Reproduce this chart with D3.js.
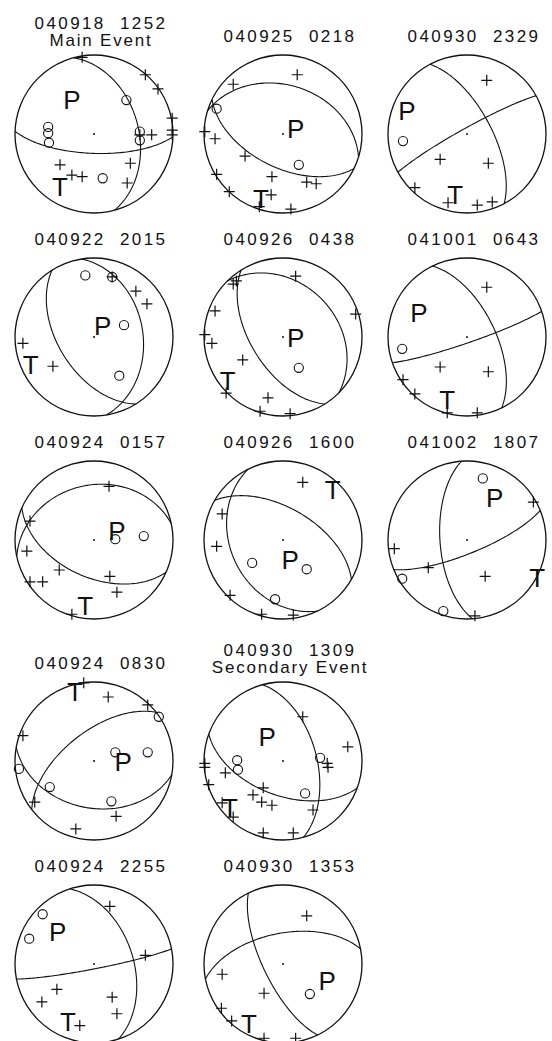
<!DOCTYPE html>
<html>
<head>
<meta charset="utf-8">
<script src="https://cdn.jsdelivr.net/npm/d3@7"></script>
<style>
  body { margin: 0; background: #fff; }
  svg { display: block; background: #fff; }
  text { font-family: "Liberation Sans", Arial, Helvetica, sans-serif; fill: #111; }
</style>
</head>
<body>
<div id="chart"></div>
<script>
// event labels (yymmdd  hhmm)
const events = ["040918  1252", "040925  0218", "040930  2329",
                "040922  2015", "040926  0438", "041001  0643",
                "040924  0157", "040926  1600", "041002  1807",
                "040924  0830", "040930  1309",
                "040924  2255", "040930  1353"];
const notes = ["Main Event", "", "", "", "", "", "", "", "", "", "Secondary Event", "", ""];

// nodal planes (strike, dip; dip to the right of strike)
const strikeA = [345, 287, 332, 148, 315, 334, 258, 154, 176, 232, 345, 342, 154];
const dipA    = [ 43,  38,  65,  53,  32,  61,  31,  34,  62,  60,  55,  49,  70];
const strikeB = [ 92, 116, 241, 351, 148,  71, 114, 300,  68, 100, 110,  79, 259];
const dipB    = [ 70,  55,  84,  38,  57,  84,  51,  57,  76,  40,  54,  85,  58];

// first motions, [east, north] on the unit net
const compressions = [
  [[-0.15,0.97],[0.65,0.75],[0.81,0.57],[0.99,0.20],[0.99,0.05],[0.99,-0.01],[0.58,-0.01],[0.73,-0.01],[0.46,-0.37],[-0.43,-0.39],[-0.28,-0.52],[-0.15,-0.54],[0.42,-0.62]],
  [[0.18,0.75],[-0.63,0.63],[-0.99,0.03],[-0.86,-0.06],[-0.48,-0.28],[-0.84,-0.51],[-0.14,-0.54],[0.30,-0.61],[0.42,-0.63],[-0.68,-0.73],[-0.15,-0.77],[-0.30,-0.92],[0.10,-0.95]],
  [[0.25,0.68],[-0.34,-0.32],[0.27,-0.37],[-0.66,-0.68],[-0.24,-0.87],[0.13,-0.90],[0.32,-0.86]],
  [[0.23,0.76],[0.53,0.58],[0.67,0.42],[-0.90,-0.08],[-0.52,-0.37]],
  [[0.16,0.77],[-0.63,0.67],[-0.59,0.71],[0.92,0.29],[-0.86,0.33],[-0.99,0.03],[-0.90,-0.08],[-0.51,-0.29],[-0.72,-0.71],[-0.19,-0.77],[-0.29,-0.94],[0.09,-0.97]],
  [[0.25,0.63],[-0.34,-0.38],[0.27,-0.44],[-0.81,-0.54],[-0.66,-0.72],[-0.25,-0.96],[0.13,-0.96]],
  [[0.19,0.68],[-0.81,0.24],[-0.85,-0.14],[-0.44,-0.38],[-0.81,-0.53],[-0.65,-0.53],[0.20,-0.46],[0.29,-0.66],[-0.28,-0.94]],
  [[0.25,0.73],[-0.77,0.33],[-0.84,-0.08],[-0.67,-0.70],[-0.27,-0.94],[0.13,-0.95]],
  [[0.84,0.48],[-0.92,-0.11],[-0.49,-0.35],[0.23,-0.46],[0.10,-0.96]],
  [[-0.13,0.99],[0.18,0.81],[0.68,0.71],[-0.90,0.32],[-0.75,-0.52],[0.28,-0.70],[-0.23,-0.86]],
  [[0.25,0.56],[0.82,0.18],[-0.99,-0.03],[-0.99,-0.08],[-0.73,-0.15],[0.56,-0.03],[0.57,-0.08],[-0.94,-0.30],[-0.77,-0.53],[-0.63,-0.71],[-0.38,-0.43],[-0.27,-0.52],[-0.14,-0.56],[-0.25,-0.34],[0.38,-0.62],[-0.25,-0.91],[0.13,-0.91]],
  [[0.20,0.73],[0.65,0.11],[-0.47,-0.32],[-0.66,-0.48],[0.23,-0.42],[0.29,-0.63],[-0.18,-0.78]],
  [[0.30,0.61],[-0.77,-0.13],[-0.24,-0.37],[-0.78,-0.56],[-0.65,-0.72],[-0.24,-0.94],[0.16,-0.94]]
];
const dilatations = [
  [[0.41,0.43],[-0.58,0.09],[-0.58,0.01],[-0.57,-0.11],[0.58,0.03],[0.58,-0.08],[0.11,-0.56]],
  [[-0.84,0.32],[0.20,-0.39]],
  [[-0.81,-0.09]],
  [[-0.11,0.78],[0.23,0.76],[0.38,0.15],[0.32,-0.49]],
  [[0.20,-0.39]],
  [[-0.82,-0.15]],
  [[0.27,0.01],[0.63,0.05]],
  [[-0.39,-0.29],[0.30,-0.37],[-0.10,-0.75]],
  [[0.20,0.78],[-0.82,-0.49],[-0.30,-0.90]],
  [[0.82,0.56],[-0.95,-0.10],[0.27,0.11],[0.68,0.11],[-0.56,-0.33],[0.22,-0.51]],
  [[-0.58,0.01],[-0.57,-0.11],[0.47,0.04],[0.28,-0.41]],
  [[-0.65,0.63],[-0.82,0.32]],
  [[0.34,-0.38]]
];
// P and T axes
const pAxis = [[-0.28,0.43],[0.16,0.06],[-0.76,0.29],[0.11,0.14],[0.16,-0.01],[-0.61,0.30],[0.29,0.11],[0.09,-0.25],[0.35,0.53],[0.37,-0.01],[-0.20,0.30],[-0.46,0.41],[0.56,-0.22]];
const tAxis = [[-0.43,-0.67],[-0.28,-0.82],[-0.15,-0.77],[-0.80,-0.35],[-0.70,-0.56],[-0.25,-0.80],[-0.11,-0.84],[0.63,0.63],[0.89,-0.48],[-0.24,0.87],[-0.67,-0.59],[-0.33,-0.73],[-0.43,-0.76]];

// layout
const width = 552, height = 1041;
const R = 79;
const colX = [94, 283, 467];
const rowY = [134, 337, 540, 761, 964];
const slots = [[0,0],[1,0],[2,0],[0,1],[1,1],[2,1],[0,2],[1,2],[2,2],[0,3],[1,3],[0,4],[1,4]];

const svg = d3.select("#chart").append("svg")
    .attr("width", width)
    .attr("height", height);

// lower hemisphere equal-area trace of a plane
function planeTrace(strike, dip) {
    const rad = Math.PI / 180;
    return d3.range(0, 180.5, 2).map(l => {
        const lr = l * rad, dr = dip * rad;
        const plunge = Math.asin(Math.sin(dr) * Math.sin(lr));
        const trend = strike * rad + Math.atan2(Math.cos(dr) * Math.sin(lr), Math.cos(lr));
        const r = Math.SQRT2 * Math.sin((Math.PI / 2 - plunge) / 2);
        return [r * Math.sin(trend), r * Math.cos(trend)];
    });
}

events.forEach((ev, i) => {
    const cx = colX[slots[i][0]], cy = rowY[slots[i][1]];
    const x = d3.scaleLinear().domain([-1, 1]).range([cx - R, cx + R]);
    const y = d3.scaleLinear().domain([-1, 1]).range([cy + R, cy - R]);
    const g = svg.append("g");

    // titles
    const top = cy - R;
    g.append("text")
        .attr("x", cx + 7)
        .attr("y", notes[i] ? top - 26 : top - 13)
        .attr("text-anchor", "middle")
        .attr("font-size", 17)
        .attr("letter-spacing", 2.4)
        .style("white-space", "pre")
        .text(ev);
    if (notes[i]) {
        g.append("text")
            .attr("x", cx + 7)
            .attr("y", top - 9)
            .attr("text-anchor", "middle")
            .attr("font-size", 17)
            .attr("letter-spacing", 1.8)
            .text(notes[i]);
    }

    // net
    g.append("circle")
        .attr("cx", cx).attr("cy", cy).attr("r", R)
        .attr("fill", "none").attr("stroke", "#111").attr("stroke-width", 1.3);
    g.append("circle")
        .attr("cx", x(0)).attr("cy", y(0)).attr("r", 1)
        .attr("fill", "#111");

    const line = d3.line().x(d => x(d[0])).y(d => y(d[1]));
    [[strikeA[i], dipA[i]], [strikeB[i], dipB[i]]].forEach(p => {
        g.append("path")
            .attr("d", line(planeTrace(p[0], p[1])))
            .attr("fill", "none")
            .attr("stroke", "#111")
            .attr("stroke-width", 1.1);
    });

    // compressions as +
    g.selectAll(".up")
        .data(compressions[i])
        .join("path")
        .attr("class", "up")
        .attr("d", d => `M${x(d[0]) - 5.5},${y(d[1])}h11M${x(d[0])},${y(d[1]) - 5.5}v11`)
        .attr("stroke", "#111")
        .attr("stroke-width", 1.2);

    // dilatations as o
    g.selectAll(".down")
        .data(dilatations[i])
        .join("circle")
        .attr("class", "down")
        .attr("cx", d => x(d[0]))
        .attr("cy", d => y(d[1]))
        .attr("r", 4.6)
        .attr("fill", "none")
        .attr("stroke", "#111")
        .attr("stroke-width", 1.1);

    // P and T
    [["P", pAxis[i]], ["T", tAxis[i]]].forEach(a => {
        g.append("text")
            .attr("x", x(a[1][0]))
            .attr("y", y(a[1][1]) + 9)
            .attr("text-anchor", "middle")
            .attr("font-size", 26)
            .text(a[0]);
    });
});
</script>
</body>
</html>
